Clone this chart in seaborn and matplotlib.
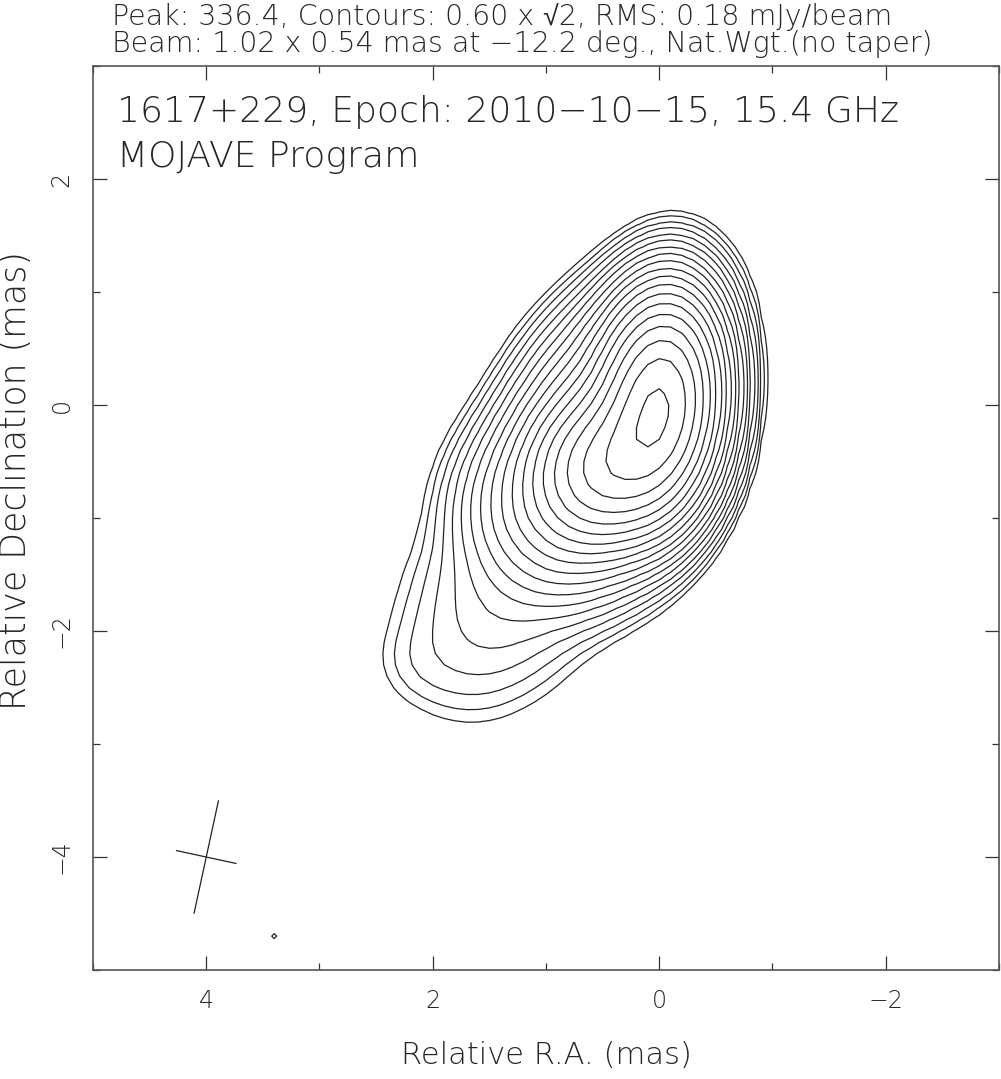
import numpy as np
import matplotlib
matplotlib.use("Agg")
import matplotlib.pyplot as plt
import seaborn as sns
from matplotlib.ticker import MultipleLocator

# Gaussian components of the map (RA/Dec offset in mas, peak in mJy/beam,
# FWHM major/minor in mas, position angle in deg east of north)
comp_ra = [0.00, 0.44, 0.52, 0.87, 1.50, 1.85, 2.20, 3.40]
comp_dec = [0.00, -0.54, 0.12, -0.98, -1.88, -2.45, -2.30, -4.70]
comp_peak = [300.0, 160.0, 17.0, 20.0, 2.4, 0.60, 0.35, 0.75]
comp_major = [1.12, 0.85, 1.40, 1.00, 1.00, 0.80, 0.60, 0.10]
comp_minor = [0.62, 0.75, 0.85, 1.05, 1.15, 1.00, 0.60, 0.10]
comp_pa = [-6.0, -35.0, -35.0, -35.0, -35.0, -35.0, 0.0, 0.0]

map_peak = 336.4
# 0.60 mJy/beam x sqrt(2)^n
levels = [0.60, 0.85, 1.20, 1.70, 2.40, 3.39, 4.80, 6.79, 9.60, 13.58,
          19.20, 27.15, 38.40, 54.31, 76.80, 108.6, 153.6, 217.2, 307.2]

# restoring beam
beam_major, beam_minor, beam_pa = 1.02, 0.54, -12.2
beam_ra, beam_dec = 4.0, -4.0

# map grid, 0.1 mas pixels
ra = np.linspace(-3, 5, 81)
dec = np.linspace(-5, 3, 81)
RA, DEC = np.meshgrid(ra, dec)
img = np.zeros_like(RA)
for x0, y0, pk, fa, fb, pa in zip(comp_ra, comp_dec, comp_peak,
                                  comp_major, comp_minor, comp_pa):
    t = np.radians(pa)
    dx, dy = RA - x0, DEC - y0
    a = dx * np.sin(t) + dy * np.cos(t)
    b = dx * np.cos(t) - dy * np.sin(t)
    img += pk * np.exp(-4 * np.log(2) * ((a / fa) ** 2 + (b / fb) ** 2))
img *= map_peak / img.max()

sns.set_style("white")
plt.rcParams["font.family"] = ["DejaVu Sans", "Liberation Sans"]
plt.rcParams["font.weight"] = "light"
plt.rcParams["axes.labelweight"] = "light"
plt.rcParams["axes.unicode_minus"] = True

fig = plt.figure(figsize=(10.01, 10.79), dpi=100)
ax = fig.add_axes([0.0929, 0.101, 0.9051, 0.8378])

ax.contour(RA, DEC, img, levels=levels, colors="#222222", linewidths=0.9)

# beam cross
t = np.radians(beam_pa)
ax.plot([beam_ra - 0.5 * beam_major * np.sin(t), beam_ra + 0.5 * beam_major * np.sin(t)],
        [beam_dec - 0.5 * beam_major * np.cos(t), beam_dec + 0.5 * beam_major * np.cos(t)],
        color="#222222", lw=0.9)
ax.plot([beam_ra - 0.5 * beam_minor * np.cos(t), beam_ra + 0.5 * beam_minor * np.cos(t)],
        [beam_dec + 0.5 * beam_minor * np.sin(t), beam_dec - 0.5 * beam_minor * np.sin(t)],
        color="#222222", lw=0.9)

ax.set_xlim(5, -3)
ax.set_ylim(-5, 3)
ax.xaxis.set_major_locator(MultipleLocator(2))
ax.xaxis.set_minor_locator(MultipleLocator(1))
ax.yaxis.set_major_locator(MultipleLocator(2))
ax.yaxis.set_minor_locator(MultipleLocator(1))
ax.tick_params(which="both", direction="in", top=True, right=True,
               bottom=True, left=True, color="#333333", width=0.9)
ax.tick_params(which="major", length=10, labelsize=17, pad=14)
ax.tick_params(which="minor", length=5)
for lab in ax.get_yticklabels():
    lab.set_rotation(90)
    lab.set_va("center")
for s in ax.spines.values():
    s.set_color("#555555")
    s.set_linewidth(1.2)

ax.set_xlabel("Relative R.A. (mas)", fontsize=22, labelpad=20, fontweight="light")
ax.set_ylabel("Relative Declination (mas)", fontsize=25, fontweight="light")
ax.yaxis.set_label_coords(-0.066, 0.542)

ax.text(0.026, 0.968, "1617+229, Epoch: 2010\u221210\u221215, 15.4 GHz",
        transform=ax.transAxes, fontsize=26, va="top", ha="left")
ax.text(0.026, 0.918, "MOJAVE Program", transform=ax.transAxes,
        fontsize=26, va="top", ha="left")

fig.text(0.112, 0.997, "Peak: 336.4, Contours: 0.60 x \u221a2, RMS: 0.18 mJy/beam",
         fontsize=20.5, va="top", ha="left")
fig.text(0.112, 0.972, "Beam: 1.02 x 0.54 mas at \u221212.2 deg., Nat.Wgt.(no taper)",
         fontsize=20.5, va="top", ha="left")

fig.savefig("out.png", dpi=100)
